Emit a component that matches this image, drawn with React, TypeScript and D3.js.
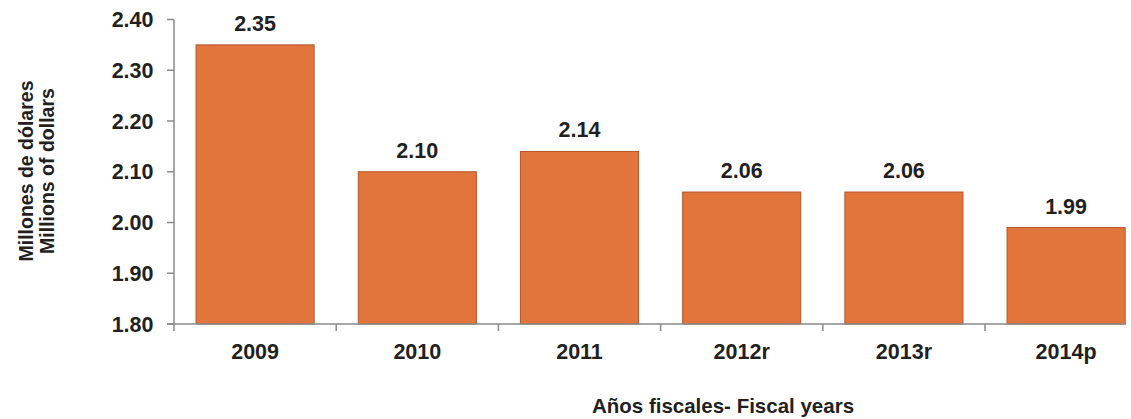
import React from "react";
import * as d3 from "d3";

const categories = ["2009", "2010", "2011", "2012r", "2013r", "2014p"];
const values = [2.35, 2.1, 2.14, 2.06, 2.06, 1.99];
const yTicks = [1.8, 1.9, 2.0, 2.1, 2.2, 2.3, 2.4];

const W = 1131;
const H = 419;
const axisX = 174;
const axisY = 324;
const step = 162.2;

export default function App() {
  const y = d3.scaleLinear().domain([1.8, 2.4]).range([axisY, 19.5]);
  const x = d3
    .scaleBand<string>()
    .domain(categories)
    .range([axisX, axisX + step * categories.length])
    .paddingInner(0.272)
    .paddingOuter(0.136);
  const font = "'Liberation Sans', Arial, sans-serif";
  const txt = "#231F20";
  const axisCol = "#8a8a8a";
  const rightEdge = 1126;
  return (
    <svg
      width={W}
      height={H}
      style={{ position: "absolute", left: 0, top: 0, background: "#fff" }}
      fontFamily={font}
      fontWeight="bold"
    >
      {categories.map((c, i) => (
        <rect
          key={c}
          x={x(c)}
          y={y(values[i])}
          width={x.bandwidth()}
          height={axisY - y(values[i])}
          fill="#E1753B"
          stroke="#B2552A"
          strokeWidth={1}
        />
      ))}
      {categories.map((c, i) => (
        <text
          key={"v" + c}
          x={(x(c) as number) + x.bandwidth() / 2}
          y={y(values[i]) - 14}
          textAnchor="middle"
          fontSize={21.5}
          fill={txt}
        >
          {values[i].toFixed(2)}
        </text>
      ))}
      {/* y axis */}
      <line x1={axisX} x2={axisX} y1={y(2.4)} y2={axisY} stroke={axisCol} strokeWidth={1.5} />
      {yTicks.map((t) => (
        <g key={t}>
          <line x1={axisX - 7} x2={axisX} y1={y(t)} y2={y(t)} stroke={axisCol} strokeWidth={1.5} />
          <text x={153.5} y={y(t) + 7.5} textAnchor="end" fontSize={21.5} fill={txt}>
            {t.toFixed(2)}
          </text>
        </g>
      ))}
      {/* x axis */}
      <line x1={axisX - 7} x2={rightEdge} y1={axisY} y2={axisY} stroke={axisCol} strokeWidth={1.5} />
      {categories.map((c, i) => {
        const bx = axisX + step * i;
        return (
          <line key={"t" + c} x1={bx} x2={bx} y1={axisY} y2={axisY + 7} stroke={axisCol} strokeWidth={1.5} />
        );
      })}
      {categories.map((c) => (
        <text
          key={"l" + c}
          x={(x(c) as number) + x.bandwidth() / 2}
          y={359}
          textAnchor="middle"
          fontSize={21.5}
          fill={txt}
        >
          {c}
        </text>
      ))}
      <text x={723} y={413} textAnchor="middle" fontSize={20.5} fill={txt}>
        Años fiscales- Fiscal years
      </text>
      <text transform="translate(33,171) rotate(-90)" textAnchor="middle" fontSize={19.5} fill={txt}>
        Millones de dólares
      </text>
      <text transform="translate(54,171) rotate(-90)" textAnchor="middle" fontSize={19.5} fill={txt}>
        Millions of dollars
      </text>
    </svg>
  );
}
